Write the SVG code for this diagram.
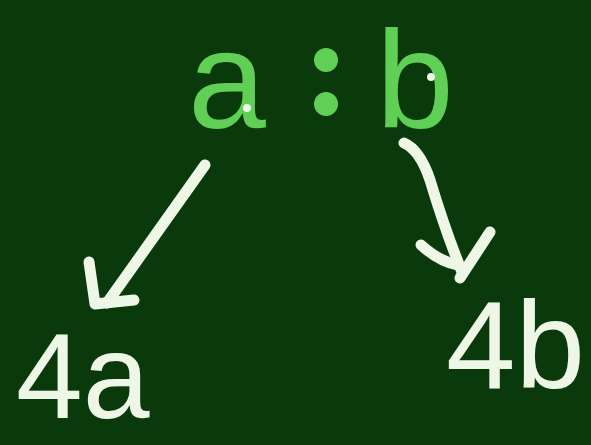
<svg xmlns="http://www.w3.org/2000/svg" width="591" height="445" viewBox="0 0 591 445">
<style>
.g{fill:#5fcf55;font-family:"Liberation Sans",Arial,sans-serif;}
.w{fill:#eef7e6;font-family:"Liberation Sans",Arial,sans-serif;}
.arr{fill:none;stroke:#eef7e6;stroke-width:11;stroke-linecap:round;stroke-linejoin:round;}
</style>
<rect width="591" height="445" fill="#0a3a0c"/>
<g id="ratio">
<text class="g" x="188" y="128" font-size="140">a</text>
<circle cx="326" cy="60" r="12" fill="#5fcf55"/>
<circle cx="326" cy="104" r="12" fill="#5fcf55"/>
<text class="g" x="376" y="128" font-size="140">b</text>
<circle cx="247" cy="108" r="4" fill="#eef7e6"/>
<circle cx="431" cy="77" r="4" fill="#eef7e6"/>
</g>
<g id="connectors">
<path class="arr" d="M205,165 L107,303"/>
<path class="arr" d="M89,262 L95,304 L134,300"/>
<path class="arr" d="M404,143 Q420,150 430,180 Q445,230 462,272"/>
<path class="arr" d="M421,245 Q440,262 458,265"/>
<path class="arr" d="M490,232 L460,278"/>
</g>
<g id="left">
<text class="w" x="16" y="418" font-size="120">4a</text>
</g>
<g id="right">
<text class="w" x="446" y="388" font-size="125">4b</text>
</g>
</svg>
